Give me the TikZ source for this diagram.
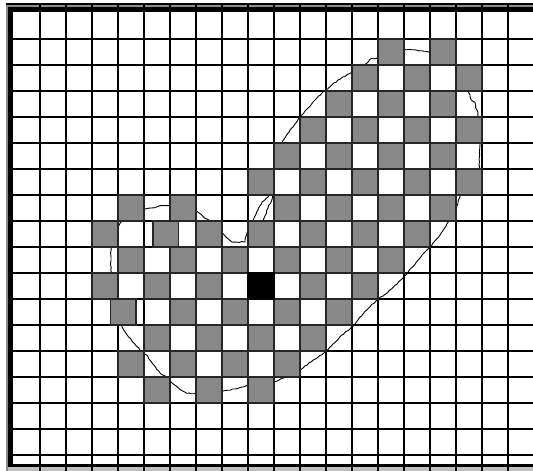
\documentclass[tikz,border=0pt]{standalone}
\usetikzlibrary{decorations.pathmorphing}
\begin{document}
\begin{tikzpicture}[x=1bp,y=-1bp,
  gridline/.style={line width=1.2bp, black},
  cellbox/.style={fill={rgb,255:red,136;green,136;blue,136}, draw=black!85, line width=1.3bp},
  blackbox/.style={fill=black, draw=black, line width=1.3bp},
  contour/.style={line width=0.9bp, black, line join=round,
    decorate, decoration={random steps, segment length=2.5bp, amplitude=0.5bp}},
  framebar/.style={fill=black},
  frameshade/.style={fill=black!45}]
\pgfmathsetseed{7}
\useasboundingbox (0,0) rectangle (533,471);
\fill[white] (0,0) rectangle (533,471);
% shaded parts of the frame
\path[frameshade] (6,5.3) rectangle (533,7.3);
\path[frameshade] (5.7,5.3) rectangle (7.6,471);
\path[fill=black!25] (7.6,467.3) rectangle (533,471);
% grid
\foreach \k in {1,...,19} \draw[gridline] ({14+26*\k},3.3) -- ({14+26*\k},471);
\foreach \k in {1,...,17} \draw[gridline] (13,{13+26*\k}) -- (533,{13+26*\k});
% contour
\draw[contour] (390,47) -- (404,49.5) -- (416,50) -- (430,52.5) -- (455,65) -- (468.3,91.7)
  -- (470,95) -- (471.3,100) -- (474.7,102) -- (475.7,108) -- (478,112) -- (478,117)
  -- (480,140) -- (479.5,162) -- (479.3,170) -- (468,188) -- (460,196) -- (455.3,210)
  -- (448.3,222) -- (444,229) -- (440,235) -- (433,243) -- (430,247.7) -- (422,255)
  -- (416.7,261.7) -- (408.3,271.7) -- (403.7,276.7) -- (393.3,287.3) -- (386.7,293.3)
  -- (377.7,299.3) -- (366.7,310) -- (360,317) -- (353.3,326) -- (340,336.7) -- (326,351.7)
  -- (313.3,360) -- (300,370) -- (286.7,376.7) -- (275,381.7) -- (260,384) -- (246.7,385.5)
  -- (235,389) -- (223.3,391) -- (210,392.5) -- (196.7,393.3) -- (186.7,393.3) -- (180,389.5)
  -- (171.7,382.7) -- (166.7,376.7) -- (161.7,374.5) -- (153.3,364.5) -- (146.7,355)
  -- (143.3,352.5) -- (140,350) -- (135,344.3) -- (126.7,334.3) -- (121.7,326) -- (116,310)
  -- (111,290) -- (111,247) -- (113,235) -- (120,223.3) -- (122,221) -- (132,212)
  -- (144.3,209) -- (155,207.7) -- (160,205.7) -- (170,205.7) -- (185,206) -- (196.7,211)
  -- (201.7,215) -- (205,218.3) -- (210,220.7) -- (218,228) -- (223.3,234) -- (227,238)
  -- (231.7,242) -- (245,242) -- (246.7,233.3) -- (250,228) -- (253.3,220) -- (256,214)
  -- (258,210) -- (262,202) -- (268.3,196.7) -- (274,169) -- (281.7,143.3) -- (286,136)
  -- (290,130) -- (293.3,126.7) -- (300,116.7) -- (307,109) -- (315,100) -- (323.3,91.7)
  -- (330,86.7) -- (338,80) -- (346.7,75) -- (350,73.3) -- (366.7,63.3) -- (371.3,58.5)
  -- (376.5,58.5) -- cycle;
\draw[contour] (272,190) -- (272.3,198.3) -- (268,208) -- (263.3,220) -- (261,226);
% gray cells
\foreach \i/\j in {14/1,16/1,
  13/2,15/2,17/2,
  12/3,14/3,16/3,
  11/4,13/4,15/4,17/4,
  10/5,12/5,14/5,16/5,
  9/6,11/6,13/6,15/6,17/6,
  4/7,6/7,10/7,12/7,14/7,16/7,
  3/8,7/8,9/8,11/8,13/8,15/8,
  4/9,6/9,8/9,10/9,12/9,14/9,
  3/10,5/10,7/10,11/10,13/10,
  6/11,8/11,10/11,12/11,
  5/12,7/12,9/12,11/12,
  4/13,6/13,8/13,10/13,
  5/14,7/14,9/14}
  \path[cellbox] ({14+26*\i},{13+26*\j}) rectangle ++(26,26);
% displaced cells
\path[cellbox] (153,221) rectangle (178.5,247);
\path[cellbox] (110.5,299) rectangle (136,325);
% centre cell
\path[blackbox] (248,273) rectangle (274,299);
% frame
\path[framebar] (6,3.3) rectangle (533,5.3);
\path[framebar] (8,7.3) rectangle (533,12);
\path[framebar] (8.3,7.3) rectangle (13.3,467.3);
\path[framebar] (8.3,464) rectangle (533,467.3);
\end{tikzpicture}
\end{document}
